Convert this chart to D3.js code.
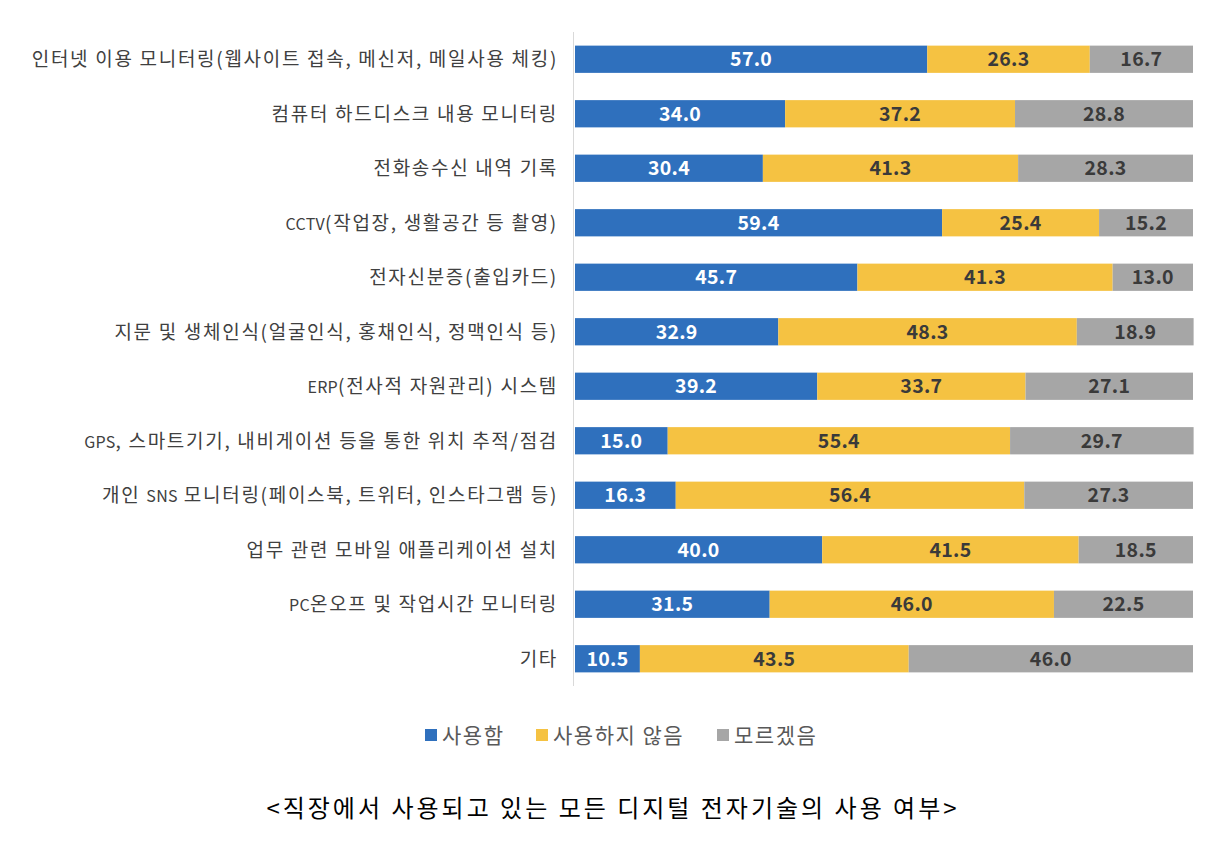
<!DOCTYPE html>
<html>
<head>
<meta charset="UTF-8">
<title>디지털 전자기술 사용 여부</title>
<script src="https://cdn.jsdelivr.net/npm/d3@7"></script>
<style>
  body { margin: 0; background: #fff; }
  text { font-family: "Noto Sans CJK KR", "Noto Sans", sans-serif; }
</style>
</head>
<body>
<svg id="chart" width="1226" height="858"></svg>
<script>
const categories = [
  "인터넷 이용 모니터링(웹사이트 접속, 메신저, 메일사용 체킹)",
  "컴퓨터 하드디스크 내용 모니터링",
  "전화송수신 내역 기록",
  "CCTV(작업장, 생활공간 등 촬영)",
  "전자신분증(출입카드)",
  "지문 및 생체인식(얼굴인식, 홍채인식, 정맥인식 등)",
  "ERP(전사적 자원관리) 시스템",
  "GPS, 스마트기기, 내비게이션 등을 통한 위치 추적/점검",
  "개인 SNS 모니터링(페이스북, 트위터, 인스타그램 등)",
  "업무 관련 모바일 애플리케이션 설치",
  "PC온오프 및 작업시간 모니터링",
  "기타"
];
const used    = [57.0, 34.0, 30.4, 59.4, 45.7, 32.9, 39.2, 15.0, 16.3, 40.0, 31.5, 10.5];
const notUsed = [26.3, 37.2, 41.3, 25.4, 41.3, 48.3, 33.7, 55.4, 56.4, 41.5, 46.0, 43.5];
const unknown = [16.7, 28.8, 28.3, 15.2, 13.0, 18.9, 27.1, 29.7, 27.3, 18.5, 22.5, 46.0];
const seriesNames = ["사용함", "사용하지 않음", "모르겠음"];
const colors = ["#2f70bd", "#f5c242", "#a6a6a6"];
const labelColors = ["#ffffff", "#3a3a3a", "#3a3a3a"];
const title = "<직장에서 사용되고 있는 모든 디지털 전자기술의 사용 여부>";

const svg = d3.select("#chart");

const rows = categories.map((c, i) => ({ cat: c, vals: [used[i], notUsed[i], unknown[i]] }));

const x = d3.scaleLinear().domain([0, 100]).range([575, 1193]);
const y = d3.scaleBand().domain(categories).range([32, 686])
    .paddingInner(0.5).paddingOuter(0.25);

// axis line on the left
svg.append("line")
    .attr("x1", 573.5).attr("x2", 573.5)
    .attr("y1", 32).attr("y2", 686)
    .attr("stroke", "#d9d9d9").attr("stroke-width", 1);

const rowG = svg.selectAll("g.row")
    .data(rows)
    .join("g")
    .attr("class", "row")
    .attr("transform", d => `translate(0,${y(d.cat)})`);

rowG.each(function(d) {
    const g = d3.select(this);
    let acc = 0;
    d.vals.forEach((v, k) => {
        const x0 = x(acc), x1 = x(acc + v);
        g.append("rect")
            .attr("x", x0).attr("y", 0)
            .attr("width", x1 - x0).attr("height", y.bandwidth())
            .attr("fill", colors[k]);
        g.append("text")
            .attr("x", (x0 + x1) / 2)
            .attr("y", y.bandwidth() / 2)
            .attr("dy", "0.36em")
            .attr("text-anchor", "middle")
            .attr("font-size", 19.5)
            .attr("font-weight", "bold")
            .attr("letter-spacing", 0.3)
            .attr("fill", labelColors[k])
            .text(v.toFixed(1));
        acc += v;
    });
    const lab = g.append("text")
        .attr("x", 558)
        .attr("y", y.bandwidth() / 2)
        .attr("dy", "0.36em")
        .attr("text-anchor", "end")
        .attr("font-size", 19)
        .attr("letter-spacing", 1.7)
        .attr("fill", "#404040");
    // latin capitals look smaller in the original font
    d.cat.split(/([A-Z]+)/).filter(s => s).forEach(part => {
        const t = lab.append("tspan").text(part);
        if (/^[A-Z]+$/.test(part)) t.attr("font-size", 16).attr("letter-spacing", 0.3);
    });
});

// legend
const legend = svg.append("g").attr("transform", "translate(0,735)");
const legendX = [425, 536, 717];
seriesNames.forEach((name, k) => {
    legend.append("rect")
        .attr("x", legendX[k]).attr("y", -6)
        .attr("width", 12).attr("height", 12)
        .attr("fill", colors[k]);
    legend.append("text")
        .attr("x", legendX[k] + 17)
        .attr("y", 0)
        .attr("dy", "0.36em")
        .attr("font-size", 21)
        .attr("letter-spacing", 1.5)
        .attr("fill", "#595959")
        .text(name);
});

svg.append("text")
    .attr("x", 613)
    .attr("y", 808)
    .attr("dy", "0.36em")
    .attr("text-anchor", "middle")
    .attr("font-size", 24)
    .attr("letter-spacing", 3)
    .attr("fill", "#000")
    .text(title);
</script>
</body>
</html>
